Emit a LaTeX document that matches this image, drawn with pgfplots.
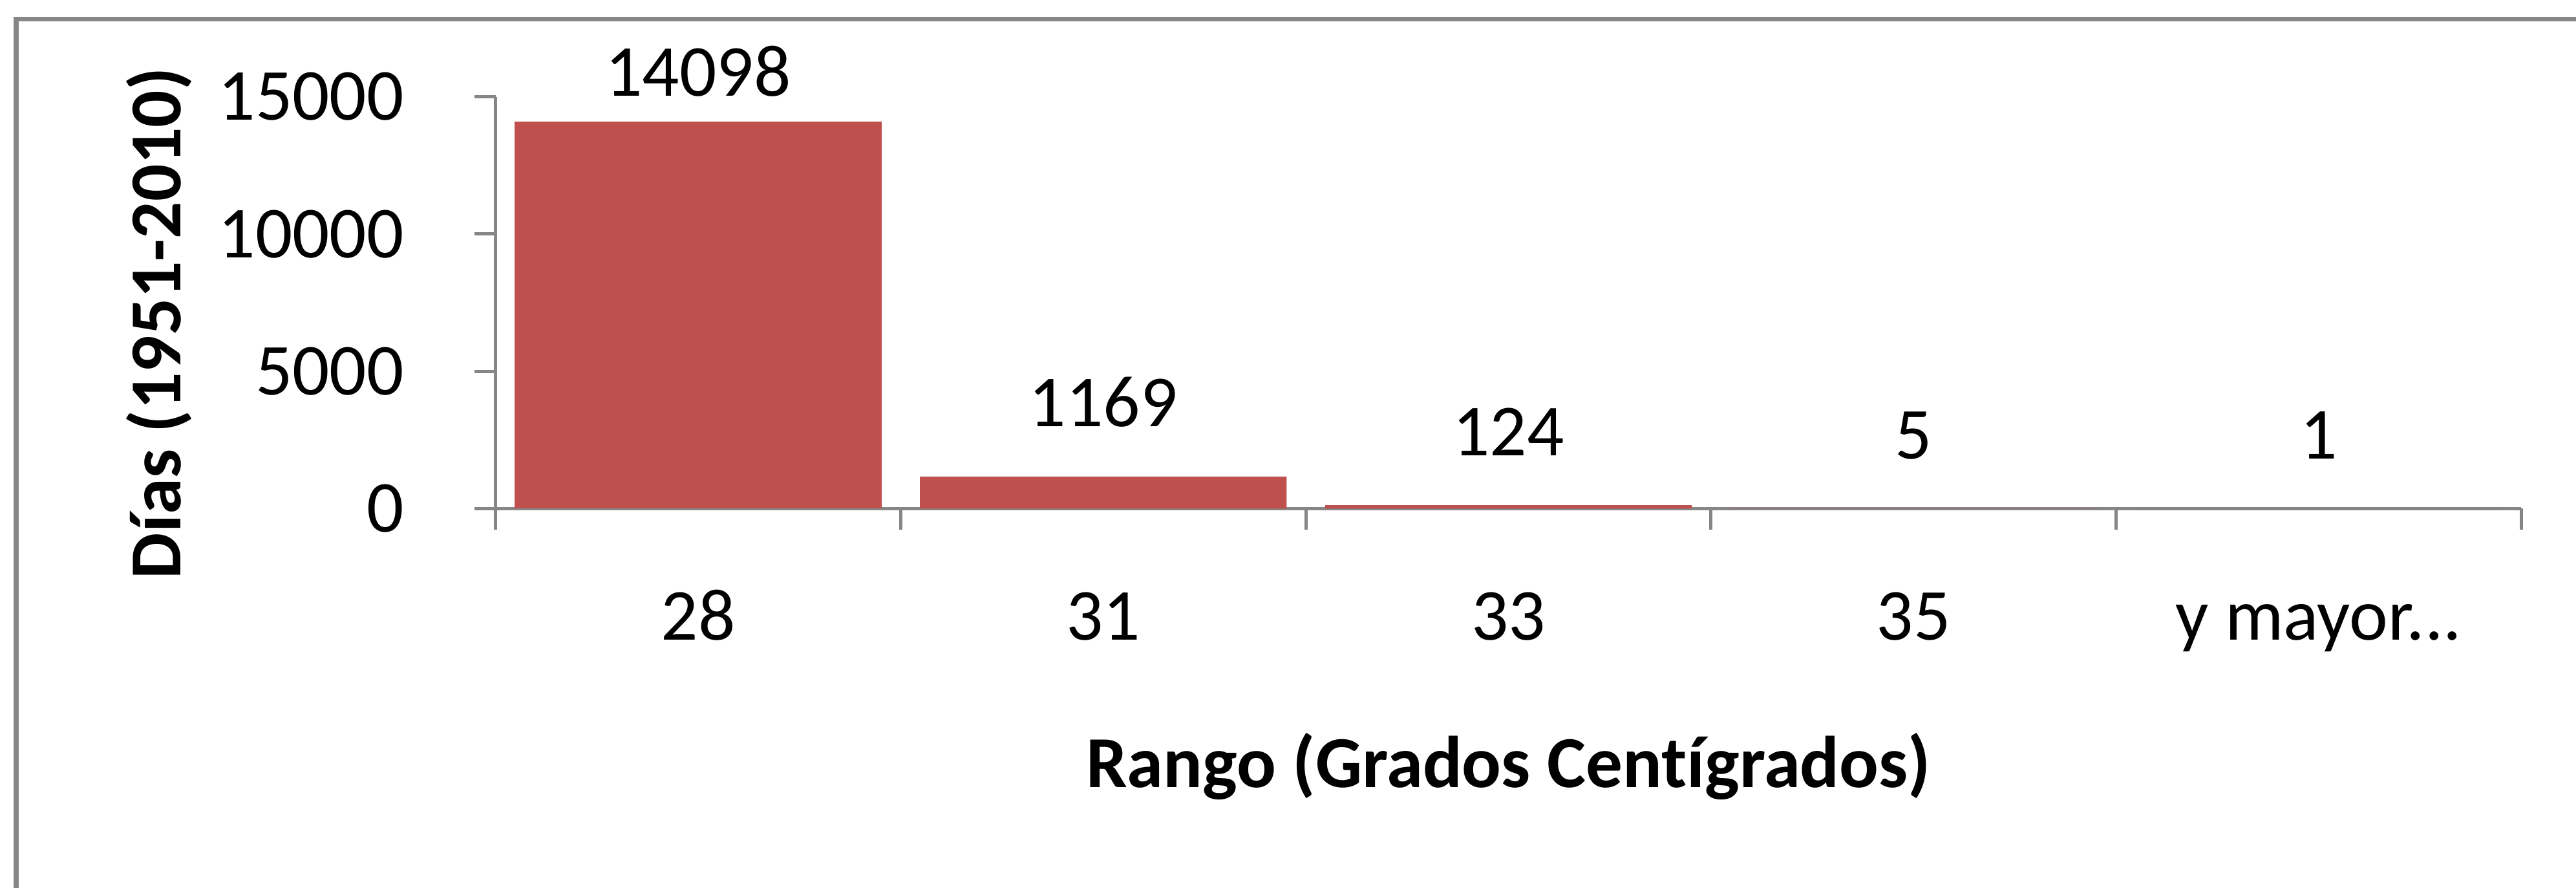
\documentclass[border=0pt]{standalone}
\usepackage{fontspec}
\setmainfont{Carlito}[Ligatures={NoCommon}]
\usepackage{pgfplots}
\pgfplotsset{compat=1.18}

\definecolor{barred}{RGB}{192,80,77}
\definecolor{axgray}{RGB}{134,134,134}
\newcommand{\ymayor}{y mayor...}

\begin{document}
\begin{tikzpicture}
  \useasboundingbox (0,0) rectangle (362.3pt,124.8pt);
  % chart frame (only the left and top edges are in view)
  \draw[axgray, line width=0.7pt] (2.3pt,0) -- (2.3pt,122.1pt) -- (362.3pt,122.1pt);
  \begin{axis}[
    at={(69.7pt,53.3pt)}, anchor=south west,
    scale only axis,
    width=284.9pt, height=57.9pt,
    font=\fontsize{10.3}{12}\selectfont,
    /pgf/number format/assume math mode=true,
    /pgf/number format/1000 sep={},
    scaled y ticks=false,
    ybar, bar width=0.905, bar shift=0pt,
    xmin=-0.5, xmax=4.5,
    ymin=0, ymax=15000,
    ytick={0,5000,10000,15000},
    xtick={0,1,2,3,4},
    xticklabels={28,31,33,35,\ymayor},
    minor xtick={-0.5,0.5,1.5,2.5,3.5,4.5},
    major x tick style={draw=none},
    tick align=outside,
    major tick length=3pt, minor tick length=3pt,
    tick style={axgray, line width=0.45pt},
    axis lines*=left,
    axis line style={axgray, line width=0.45pt, -},
    xticklabel style={anchor=base, yshift=-15.5pt},
    yticklabel style={anchor=east, inner xsep=9.7pt},
    xlabel={\bfseries Rango (Grados Centígrados)},
    xlabel style={at={(axis description cs:0.5,0)}, anchor=base, yshift=-39.2pt},
    ylabel={\bfseries Días (1951-2010)},
    ylabel style={at={(axis description cs:-0.166,0.45)}, anchor=center},
    nodes near coords,
  ]
    % tallest bar: its label sits closer to the bar (kept inside the chart)
    \addplot[fill=barred, draw=none,
      every node near coord/.append style={anchor=base, yshift=3.6pt, black}]
      coordinates {(0,14098)};
    \addplot[fill=barred, draw=none,
      every node near coord/.append style={anchor=base, yshift=7pt, black}]
      coordinates {(1,1169) (2,124) (3,5) (4,1)};
  \end{axis}
\end{tikzpicture}
\end{document}
